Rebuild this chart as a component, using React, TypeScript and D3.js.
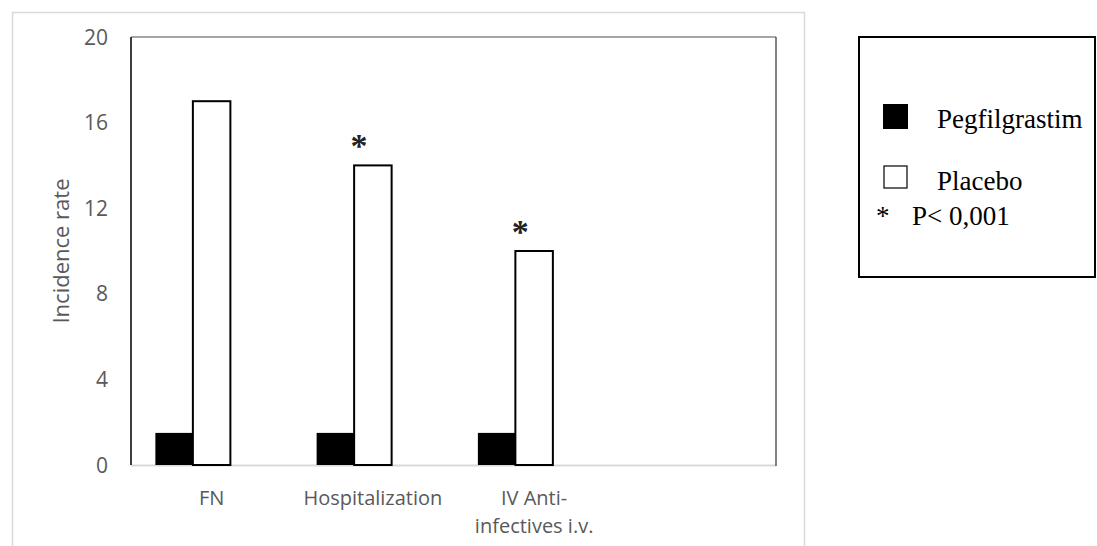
import React, { useEffect, useRef } from "react";
import * as d3 from "d3";

const categories = ["FN", "Hospitalization", "IV Anti-|infectives i.v.", ""];
const pegfilgrastim = [1.5, 1.5, 1.5];
const placebo = [17, 14, 10];
const significant = [false, true, true];
const seriesSlots = ["Pegfilgrastim", "Placebo", "empty"];
const yTicks = [0, 4, 8, 12, 16, 20];

const W = 1097;
const H = 546;

const App = () => {
  const svgRef = useRef<SVGSVGElement>(null);

  useEffect(() => {
    const svg = d3.select(svgRef.current);
    svg.selectAll("*").remove();

    const plot = { left: 131, right: 776, top: 37, bottom: 465 };
    const axisFont = "'Open Sans', sans-serif";
    const serif = "'Liberation Serif', 'Times New Roman', serif";

    // outer chart area border
    svg.append("rect")
      .attr("x", 12.5).attr("y", 12.5)
      .attr("width", 792).attr("height", 560)
      .attr("fill", "white")
      .attr("stroke", "#d9d9d9").attr("stroke-width", 1.5);

    const x = d3.scaleBand().domain(categories).range([plot.left, plot.right]);
    const inner = d3.scaleBand().domain(seriesSlots).range([0, x.bandwidth()]).paddingOuter(0.65);
    const y = d3.scaleLinear().domain([0, 20]).range([plot.bottom, plot.top]);

    // plot area borders
    svg.append("line")
      .attr("x1", plot.left).attr("x2", plot.right)
      .attr("y1", y(20)).attr("y2", y(20))
      .attr("stroke", "#a6a6a6").attr("stroke-width", 2);
    svg.append("line")
      .attr("x1", plot.left).attr("x2", plot.right)
      .attr("y1", y(0) + 0.5).attr("y2", y(0) + 0.5)
      .attr("stroke", "#d9d9d9").attr("stroke-width", 2);
    svg.append("line")
      .attr("x1", plot.left).attr("x2", plot.left)
      .attr("y1", plot.top).attr("y2", plot.bottom)
      .attr("stroke", "#000").attr("stroke-width", 1.5);
    svg.append("line")
      .attr("x1", plot.right).attr("x2", plot.right)
      .attr("y1", plot.top).attr("y2", plot.bottom + 1)
      .attr("stroke", "#595959").attr("stroke-width", 1.5);

    // y tick labels
    svg.append("g")
      .selectAll("text")
      .data(yTicks)
      .enter()
      .append("text")
      .attr("x", 108)
      .attr("y", (d) => y(d))
      .attr("dy", "0.36em")
      .attr("text-anchor", "end")
      .attr("font-family", axisFont)
      .attr("font-size", 21)
      .attr("fill", "#595959")
      .text((d) => d);

    // y title
    svg.append("text")
      .attr("transform", `translate(69,${(plot.top + plot.bottom) / 2}) rotate(-90)`)
      .attr("text-anchor", "middle")
      .attr("font-family", axisFont)
      .attr("font-size", 22)
      .attr("fill", "#595959")
      .text("Incidence rate");

    // x labels (| splits lines)
    categories.forEach((c) => {
      if (!c) return;
      const lines = c.split("|");
      const t = svg.append("text")
        .attr("text-anchor", "middle")
        .attr("font-family", axisFont)
        .attr("font-size", 20)
        .attr("fill", "#595959");
      lines.forEach((l, i) => {
        t.append("tspan")
          .attr("x", x(c)! + x.bandwidth() / 2)
          .attr("y", 505 + i * 28)
          .text(l);
      });
    });

    const data = pegfilgrastim.map((v, i) => ({
      cat: categories[i],
      peg: v,
      plc: placebo[i],
      sig: significant[i],
    }));

    // Pegfilgrastim bars
    svg.append("g")
      .selectAll("rect")
      .data(data)
      .enter()
      .append("rect")
      .attr("x", (d) => x(d.cat)! + inner("Pegfilgrastim")!)
      .attr("y", (d) => y(d.peg))
      .attr("width", inner.bandwidth())
      .attr("height", (d) => y(0) - y(d.peg))
      .attr("fill", "#000");

    // Placebo bars
    svg.append("g")
      .selectAll("rect")
      .data(data)
      .enter()
      .append("rect")
      .attr("x", (d) => x(d.cat)! + inner("Placebo")!)
      .attr("y", (d) => y(d.plc))
      .attr("width", inner.bandwidth())
      .attr("height", (d) => y(0) - y(d.plc))
      .attr("fill", "#fff")
      .attr("stroke", "#000")
      .attr("stroke-width", 2);

    // significance asterisks
    svg.append("g")
      .selectAll("text")
      .data(data.filter((d) => d.sig))
      .enter()
      .append("text")
      .attr("x", (d) => x(d.cat)! + inner("Placebo")! + inner.bandwidth() / 2 - 14)
      .attr("y", (d) => y(d.plc) - 8)
      .attr("text-anchor", "middle")
      .attr("font-family", serif)
      .attr("font-size", 34)
      .attr("font-weight", "bold")
      .attr("fill", "#222")
      .text("*");

    // legend
    const lg = svg.append("g");
    lg.append("rect")
      .attr("x", 859).attr("y", 37)
      .attr("width", 236).attr("height", 240)
      .attr("fill", "#fff")
      .attr("stroke", "#000").attr("stroke-width", 2);
    lg.append("rect")
      .attr("x", 883).attr("y", 104)
      .attr("width", 25).attr("height", 25)
      .attr("fill", "#000");
    lg.append("text")
      .attr("x", 937).attr("y", 128)
      .attr("font-family", serif).attr("font-size", 27)
      .text(seriesSlots[0]);
    lg.append("rect")
      .attr("x", 884).attr("y", 166)
      .attr("width", 23).attr("height", 22)
      .attr("fill", "#fff")
      .attr("stroke", "#000").attr("stroke-width", 1.2);
    lg.append("text")
      .attr("x", 937).attr("y", 190)
      .attr("font-family", serif).attr("font-size", 27)
      .text(seriesSlots[1]);
    lg.append("text")
      .attr("x", 876).attr("y", 225)
      .attr("font-family", serif).attr("font-size", 27)
      .text("*");
    lg.append("text")
      .attr("x", 912).attr("y", 225)
      .attr("font-family", serif).attr("font-size", 27)
      .text("P< 0,001");
  }, []);

  return (
    <svg
      ref={svgRef}
      width={W}
      height={H}
      style={{ position: "absolute", left: 0, top: 0, background: "#fff" }}
    ></svg>
  );
};

export default App;
